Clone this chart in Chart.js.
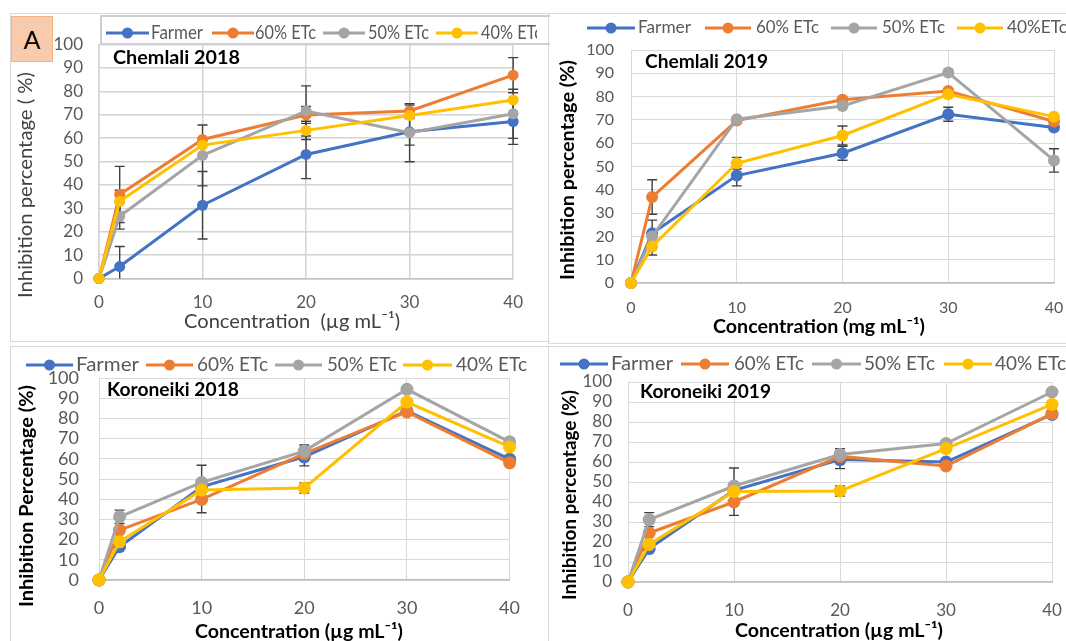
<!DOCTYPE html>
<html lang="en">
<head>
<meta charset="UTF-8" />
<title>Inhibition percentage - Chemlali and Koroneiki</title>
<script src="https://cdn.jsdelivr.net/npm/chart.js"></script>
<style>
  html, body { margin: 0; padding: 0; background: #fff; overflow: hidden; width: 1066px; height: 641px; }
  canvas { position: absolute; }
  .frame { position: absolute; border: 1px solid #d9d9d9; box-sizing: border-box; }
  .tag {
    position: absolute; left: 11px; top: 16px; width: 42px; height: 46px;
    background: #f8cbad; border: 1px solid #f4b183; box-sizing: border-box;
    font: 25px Lato, sans-serif; line-height: 44px; text-align: center; color: #000;
  }
</style>
</head>
<body>
  <div class="frame" style="left:10px;top:13px;width:540px;height:329px;border-right:none"></div>
  <div class="frame" style="left:548px;top:13px;width:530px;height:331px"></div>
  <div class="frame" style="left:10px;top:346px;width:540px;height:310px;border-right:none"></div>
  <div class="frame" style="left:548px;top:346px;width:530px;height:310px"></div>
  <div class="frame" style="left:100px;top:15px;width:450px;height:30px;border-right:none;border-color:#cfcfcf;border-width:2px"></div>

  <canvas id="c18" width="537" height="343" style="left:0;top:0"></canvas>
  <canvas id="c19" width="540" height="345" style="left:545px;top:0"></canvas>
  <canvas id="k18" width="537" height="298" style="left:0;top:343px"></canvas>
  <canvas id="k19" width="540" height="296" style="left:545px;top:345px"></canvas>
  <div class="tag">A</div>

<script>
const concentration = [0, 2, 10, 20, 30, 40];
const xTicks = [0, 10, 20, 30, 40];
const yTicks = [0, 10, 20, 30, 40, 50, 60, 70, 80, 90, 100];
const seriesColors = ['#4472c4', '#ed7d31', '#a5a5a5', '#ffc000'];

// Chemlali 2018
const c18Names = ['Farmer', '60% ETc', '50% ETc', '40% ETc'];
const c18Farmer = [0, 5.1, 31.3, 53.0, 62.7, 67.1];
const c18Etc60 = [0, 35.9, 59.4, 69.9, 71.6, 86.9];
const c18Etc50 = [0, 26.6, 52.6, 71.6, 62.3, 70.4];
const c18Etc40 = [0, 33.0, 57.0, 63.3, 69.7, 76.3];
const c18ErrFarmer = [0, 8.6, 14.4, 10.3, 5.7, 9.8];
const c18Err60 = [0, 12.0, 0, 3.6, 2.5, 7.5];
const c18Err50 = [0, 5.5, 13.0, 10.7, 12.4, 10.5];
const c18Err40 = [0, 4.7, 0, 3.9, 0, 0];

// Chemlali 2019
const c19Names = ['Farmer', '60% ETc', '50% ETc', '40%ETc'];
const c19Farmer = [0, 21.4, 46.1, 55.7, 72.4, 66.7];
const c19Etc60 = [0, 36.9, 69.7, 78.6, 82.4, 69.3];
const c19Etc50 = [0, 20.0, 70.3, 76.0, 90.3, 52.6];
const c19Etc40 = [0, 15.7, 51.4, 63.3, 81.0, 71.4];
const c19ErrFarmer = [0, 5.6, 4.4, 3.0, 3.0, 0];
const c19Err60 = [0, 7.4, 0, 0, 0, 0];
const c19Err50 = [0, 0, 0, 0, 0, 5.0];
const c19Err40 = [0, 3.7, 2.5, 4.1, 0, 0];

// Koroneiki 2018
const k18Names = ['Farmer', '60% ETc', '50% ETc', '40% ETc'];
const k18Farmer = [0, 16.5, 46.1, 61.0, 83.7, 59.8];
const k18Etc60 = [0, 24.7, 39.9, 62.6, 83.2, 58.0];
const k18Etc50 = [0, 31.3, 48.3, 63.8, 94.4, 68.4];
const k18Etc40 = [0, 18.9, 44.5, 45.6, 88.1, 65.9];
const k18ErrFarmer = [0, 0, 0, 4.5, 0, 0];
const k18Err60 = [0, 0, 6.6, 0, 0, 0];
const k18Err50 = [0, 3.3, 8.5, 3.0, 0, 0];
const k18Err40 = [0, 0, 0, 2.5, 0, 0];

// Koroneiki 2019
const k19Names = ['Farmer', '60% ETc', '50% ETc', '40% ETc'];
const k19Farmer = [0, 16.7, 45.8, 61.2, 60.0, 83.8];
const k19Etc60 = [0, 24.5, 40.0, 62.8, 58.0, 84.2];
const k19Etc50 = [0, 31.2, 48.0, 63.7, 69.2, 95.0];
const k19Etc40 = [0, 18.8, 45.3, 45.5, 66.7, 88.8];
const k19ErrFarmer = [0, 0, 0, 4.5, 0, 0];
const k19Err60 = [0, 0, 6.7, 0, 0, 0];
const k19Err50 = [0, 3.5, 9.0, 3.0, 0, 0];
const k19Err40 = [0, 0, 0, 2.5, 0, 0];

const FONT = 'Lato, "Noto Sans", sans-serif';

// page-coordinate layout of each panel: canvas box, plot area, texts and legend
const panels = [
  {
    id: 'c18', box: [0, 0, 537, 343], area: [99, 44.5, 518, 278.5],
    names: c18Names, series: [c18Farmer, c18Etc60, c18Etc50, c18Etc40],
    errors: [c18ErrFarmer, c18Err60, c18Err50, c18Err40],
    tickSize: 17, yPad: 16, xPad: 14, gridColor: '#d3d3d3', gridWidth: 1.5, radius: 5.5,
    texts: [
      { text: 'Chemlali 2018', x: 113, y: 58, size: 18, bold: true, w: 127 },
      { text: 'Inhibition percentage ( %)', x: 26, y: 185, size: 20, rot: true, align: 'center', color: '#404040', w: 226 },
      { text: 'Concentration  (\u00b5g mL\u207b\u00b9)', x: 292, y: 322, size: 20, align: 'center', color: '#404040', w: 216 }
    ],
    legend: { y: 33, size: 19, items: [[106, 149, 151, 52], [212, 254, 255, 61], [323, 365, 368, 61], [436, 478, 481, 61]] }
  },
  {
    id: 'c19', box: [545, 0, 540, 345], area: [631, 50, 1054, 283],
    names: c19Names, series: [c19Farmer, c19Etc60, c19Etc50, c19Etc40],
    errors: [c19ErrFarmer, c19Err60, c19Err50, c19Err40],
    tickSize: 16, yPad: 17, xPad: 15, gridColor: '#d9d9d9', gridWidth: 1, radius: 6,
    texts: [
      { text: 'Chemlali 2019', x: 645, y: 62, size: 18, bold: true, w: 123 },
      { text: 'Inhibition percentage (%)', x: 568, y: 170, size: 19, bold: true, rot: true, align: 'center', w: 220 },
      { text: 'Concentration (mg mL\u207b\u00b9)', x: 819, y: 327, size: 19, bold: true, align: 'center', w: 212 }
    ],
    legend: { y: 28, size: 17, items: [[587, 635, 638, 53], [705, 751, 756, 63], [831, 877, 882, 63], [957, 1003, 1007, 60]] }
  },
  {
    id: 'k18', box: [0, 343, 537, 298], area: [99, 378, 520, 580],
    names: k18Names, series: [k18Farmer, k18Etc60, k18Etc50, k18Etc40],
    errors: [k18ErrFarmer, k18Err60, k18Err50, k18Err40],
    tickSize: 18, yPad: 20, xPad: 17, gridColor: '#d9d9d9', gridWidth: 1, radius: 6.5,
    texts: [
      { text: 'Koroneiki 2018', x: 107, y: 390, size: 18, bold: true, w: 132 },
      { text: 'Inhibition Percentage (%)', x: 27, y: 496, size: 19, bold: true, rot: true, align: 'center', w: 222 },
      { text: 'Concentration (\u00b5g mL\u207b\u00b9)', x: 299, y: 632, size: 19, bold: true, align: 'center', w: 208 }
    ],
    legend: { y: 365, size: 19, items: [[26, 73, 76, 63], [146, 193, 197, 71], [275, 322, 327, 70], [403, 452, 456, 71]] }
  },
  {
    id: 'k19', box: [545, 345, 540, 296], area: [628, 382, 1052, 582],
    names: k19Names, series: [k19Farmer, k19Etc60, k19Etc50, k19Etc40],
    errors: [k19ErrFarmer, k19Err60, k19Err50, k19Err40],
    tickSize: 17, yPad: 16, xPad: 18, gridColor: '#d9d9d9', gridWidth: 1, radius: 6.5,
    texts: [
      { text: 'Koroneiki 2019', x: 640, y: 392, size: 18, bold: true, w: 131 },
      { text: 'Inhibition percentage (%)', x: 570, y: 495, size: 19, bold: true, rot: true, align: 'center', w: 210 },
      { text: 'Concentration (\u00b5g mL\u207b\u00b9)', x: 839, y: 631, size: 19, bold: true, align: 'center', w: 208 }
    ],
    legend: { y: 364, size: 19, items: [[560, 608, 611, 62], [681, 729, 734, 70], [812, 861, 864, 71], [944, 992, 995, 71]] }
  }
];

function drawText(ctx, t, ox, oy) {
  ctx.save();
  ctx.font = (t.bold ? 'bold ' : '') + t.size + 'px ' + FONT;
  ctx.fillStyle = t.color || '#000';
  ctx.textBaseline = 'middle';
  ctx.textAlign = t.align || 'left';
  ctx.translate(t.x - ox, t.y - oy);
  if (t.rot) ctx.rotate(-Math.PI / 2);
  if (t.w) ctx.scale(t.w / ctx.measureText(t.text).width, 1);
  ctx.fillText(t.text, 0, 0);
  ctx.restore();
}

// vertical error bars with caps, placed through the chart scales (under the series)
const errorBars = {
  id: 'errorBars',
  beforeDatasetsDraw(chart) {
    const { ctx, chartArea, scales: { x, y } } = chart;
    ctx.save();
    ctx.beginPath();
    ctx.rect(chartArea.left - 10, chartArea.top, chartArea.width + 20, chartArea.height);
    ctx.clip();
    ctx.strokeStyle = '#404040';
    ctx.lineWidth = 1.4;
    chart.data.datasets.forEach(ds => {
      ds.errors.forEach((e, i) => {
        if (!e) return;
        const px = x.getPixelForValue(ds.data[i].x);
        const hi = y.getPixelForValue(ds.data[i].y + e);
        const lo = y.getPixelForValue(ds.data[i].y - e);
        ctx.beginPath();
        ctx.moveTo(px, hi); ctx.lineTo(px, lo);
        ctx.moveTo(px - 5, hi); ctx.lineTo(px + 5, hi);
        ctx.moveTo(px - 5, lo); ctx.lineTo(px + 5, lo);
        ctx.stroke();
      });
    });
    ctx.restore();
  }
};

// panel titles, axis titles and the line+marker legend
const panelText = {
  id: 'panelText',
  afterDraw(chart, args, opts) {
    const p = opts.panel;
    const ctx = chart.ctx;
    const ox = p.box[0], oy = p.box[1];
    p.texts.forEach(t => drawText(ctx, t, ox, oy));
    const lg = p.legend;
    chart.data.datasets.forEach((ds, i) => {
      const [s0, s1, t0, tw] = lg.items[i];
      ctx.save();
      ctx.strokeStyle = ds.borderColor;
      ctx.fillStyle = ds.borderColor;
      ctx.lineWidth = 3;
      ctx.beginPath();
      ctx.moveTo(s0 - ox, lg.y - oy); ctx.lineTo(s1 - ox, lg.y - oy);
      ctx.stroke();
      ctx.beginPath();
      ctx.arc((s0 + s1) / 2 - ox, lg.y - oy, 5.5, 0, Math.PI * 2);
      ctx.fill();
      ctx.restore();
      drawText(ctx, { text: ds.label, x: t0, y: lg.y, size: lg.size, color: '#595959', w: tw }, ox, oy);
    });
  }
};

panels.forEach(p => {
  const [bx, by, bw, bh] = p.box;
  const [al, at, ar, ab] = p.area;
  const tickFont = { family: FONT, size: p.tickSize };
  const datasets = p.series.map((vals, i) => ({
    label: p.names[i],
    data: vals.map((v, j) => ({ x: concentration[j], y: v })),
    errors: p.errors[i],
    borderColor: seriesColors[i],
    backgroundColor: seriesColors[i],
    pointBackgroundColor: seriesColors[i],
    pointBorderColor: seriesColors[i],
    borderWidth: 3,
    pointRadius: p.radius,
    pointBorderWidth: 0,
    tension: 0,
    clip: false,
    order: 4 - i
  }));

  new Chart(document.getElementById(p.id), {
    type: 'line',
    data: { datasets },
    plugins: [errorBars, panelText],
    options: {
      responsive: false,
      animation: false,
      layout: { padding: { left: 0, top: at - by, right: bw - (ar - bx), bottom: 0 } },
      plugins: {
        legend: { display: false },
        tooltip: { enabled: false },
        panelText: { panel: p }
      },
      scales: {
        x: {
          type: 'linear', min: 0, max: 40,
          afterBuildTicks: s => { s.ticks = xTicks.map(v => ({ value: v })); },
          afterFit: s => { s.height = bh - (ab - by); },
          ticks: { color: '#595959', font: tickFont, padding: p.xPad, autoSkip: false, maxRotation: 0 },
          grid: { color: p.gridColor, lineWidth: p.gridWidth, drawTicks: false },
          border: { color: '#bfbfbf', width: 1.5 }
        },
        y: {
          type: 'linear', min: 0, max: 100,
          afterBuildTicks: s => { s.ticks = yTicks.map(v => ({ value: v })); },
          afterFit: s => { s.width = al - bx; },
          ticks: { color: '#595959', font: tickFont, padding: p.yPad, autoSkip: false },
          grid: { color: p.gridColor, lineWidth: p.gridWidth, drawTicks: false },
          border: { color: p.gridColor, width: p.gridWidth }
        }
      }
    }
  });
});
</script>
</body>
</html>
